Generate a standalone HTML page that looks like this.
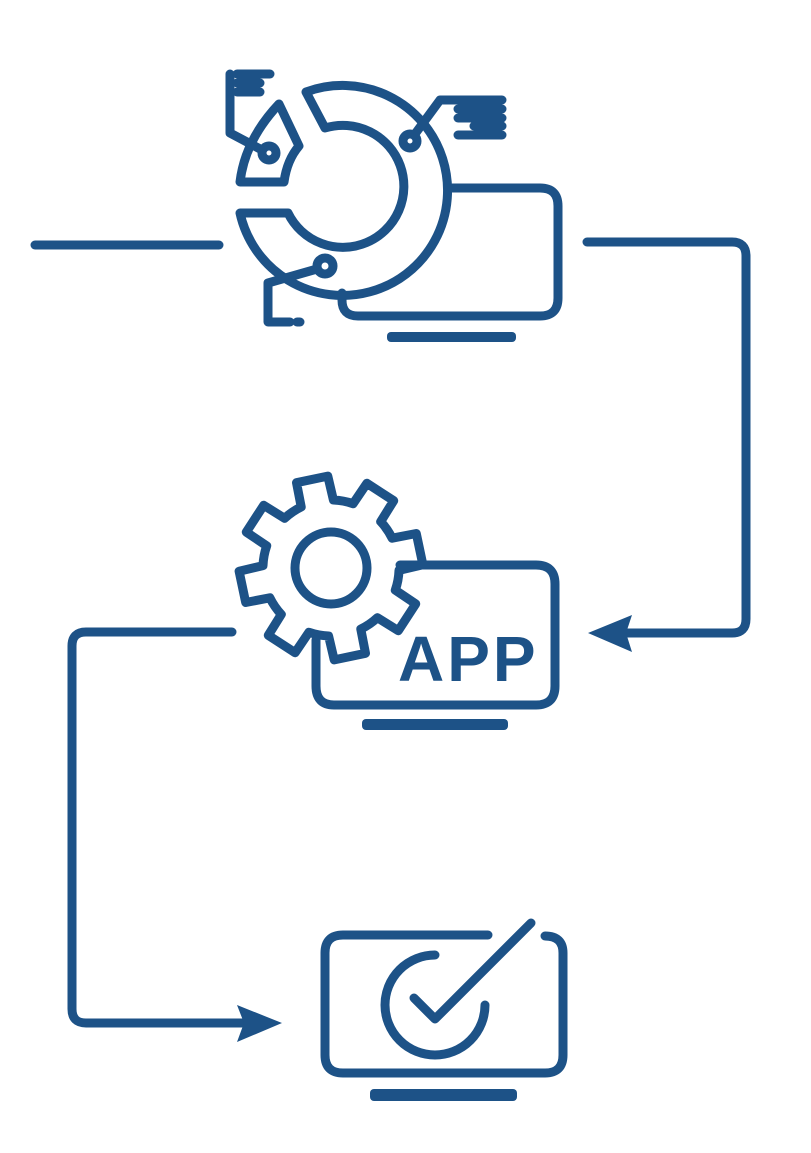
<!DOCTYPE html>
<html><head><meta charset="utf-8"><style>
html,body{margin:0;padding:0;background:#fff;}
svg{display:block;}
</style></head><body>
<svg width="811" height="1153" viewBox="0 0 811 1153" xmlns="http://www.w3.org/2000/svg">
<g fill="none" stroke="#1d5287" stroke-width="9" stroke-linecap="round" stroke-linejoin="round">
<!-- top icon -->
<line x1="35" y1="245" x2="219" y2="245"/>
<path d="M306,92 L325,128 A61 61 0 1 1 288,213 L240,213 A105 105 0 1 0 306,92 Z"/>
<path d="M279,104 L299,146 Q287,160 284,182 L240,182 Q245,140 279,104 Z"/>
<path d="M452,188 L540,188 Q558,188 558,206 L558,298 Q558,316 540,316 L358,316 Q342,316 342,300 L342,293"/>
<circle cx="269" cy="153" r="7"/>
<path d="M230,74 L230,133 L262,150"/>
<line x1="237" y1="74" x2="270" y2="74"/>
<line x1="237" y1="83" x2="260" y2="83"/>
<line x1="237" y1="92" x2="260" y2="92"/>
<circle cx="410" cy="141" r="7"/>
<path d="M415,134 L440,100 L502,100"/>
<line x1="458" y1="109" x2="502" y2="109"/>
<line x1="458" y1="118" x2="502" y2="118"/>
<line x1="474" y1="126" x2="502" y2="126"/>
<line x1="458" y1="135" x2="502" y2="135"/>
<circle cx="325" cy="266" r="8"/>
<path d="M317,269 L268,283 L268,322 L290,322"/>
<line x1="297" y1="322" x2="300" y2="322"/>
<!-- connector 1 -->
<path d="M587,242 L732,242 Q746,242 746,256 L746,619 Q746,633 732,633 L625,633"/>
<!-- middle icon -->
<path id="gear" d=""/>
<circle cx="331" cy="568" r="36"/>
<path d="M400,565 L536,565 Q555,565 555,584 L555,686 Q555,705 536,705 L334,705 Q316,705 316,686 L316,640"/>
<!-- connector 2 -->
<path d="M232,632 L86,632 Q72,632 72,646 L72,1009 Q72,1023 86,1023 L245,1023"/>
<!-- bottom icon -->
<path d="M488,935 L343,935 Q325,935 325,953 L325,1055 Q325,1073 343,1073 L545,1073 Q563,1073 563,1055 L563,953 Q563,936 545,936"/>
<path d="M435,955 A50 50 0 1 0 485,1005"/>
<path d="M414,998 L435,1019 L531,923"/>
</g>
<g fill="#1d5287">
<rect x="387" y="332" width="129" height="10" rx="4"/>
<rect x="362" y="719" width="146" height="11" rx="4"/>
<rect x="370" y="1089" width="147" height="12" rx="4"/>
<polygon points="588,633 632,615 626,633 632,652"/>
<polygon points="282,1023 237,1005 244,1023 237,1042"/>
<text x="398" y="681" font-family="Liberation Sans, sans-serif" font-weight="bold" font-size="64" letter-spacing="3">APP</text>
</g>
<script>
(function(){
var cx=331,cy=568,ro=92,ri=68,d="";
for(var k=0;k<8;k++){
 var a=(-102+k*45)*Math.PI/180;
 var hw=10*Math.PI/180, hr=14*Math.PI/180;
 var pts=[[ri,a-hr],[ro,a-hw],[ro,a+hw],[ri,a+hr]];
 pts.forEach(function(p,i){
  var x=cx+p[0]*Math.cos(p[1]),y=cy+p[0]*Math.sin(p[1]);
  if(k===0&&i===0)d+="M"+x.toFixed(1)+","+y.toFixed(1);
  else if(i===0){d+=" A"+ri+" "+ri+" 0 0 1 "+x.toFixed(1)+","+y.toFixed(1);}
  else d+=" L"+x.toFixed(1)+","+y.toFixed(1);
 });
}
var a0=(-102-14)*Math.PI/180;
d+=" A"+ri+" "+ri+" 0 0 1 "+(cx+ri*Math.cos(a0)).toFixed(1)+","+(cy+ri*Math.sin(a0)).toFixed(1)+" Z";
document.getElementById("gear").setAttribute("d",d);
})();
</script>
</svg>
</body></html>
